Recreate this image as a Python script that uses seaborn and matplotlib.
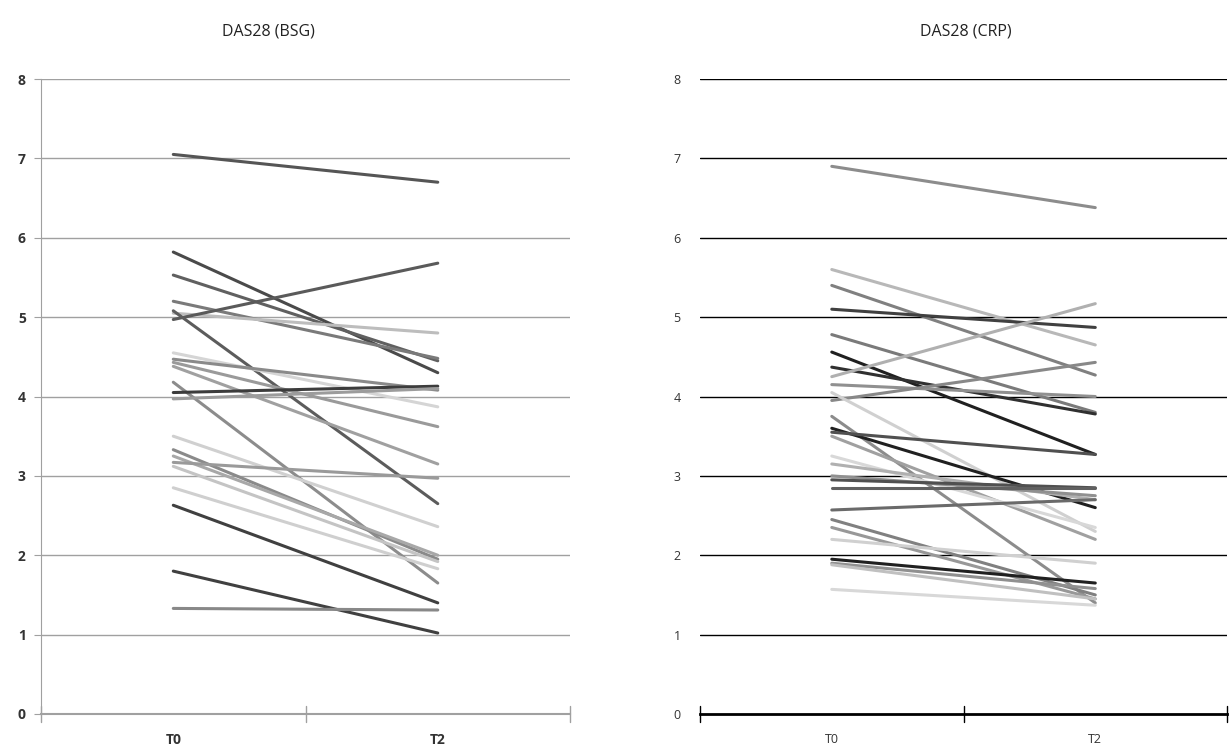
import pandas as pd
import matplotlib.pyplot as plt
import seaborn as sns

times = ["T0", "T2"]

# DAS28 (BSG)
bsg_t0 = [7.05, 5.82, 5.53, 5.20, 5.05, 4.97, 5.08, 4.55, 4.47, 4.43, 4.38, 4.18,
          4.05, 3.97, 3.50, 3.33, 3.25, 3.17, 3.12, 2.85, 2.63, 1.80, 1.33]
bsg_t2 = [6.70, 4.30, 4.45, 4.48, 4.80, 5.68, 2.65, 3.87, 4.08, 3.62, 3.15, 1.65,
          4.13, 4.10, 2.36, 1.95, 2.00, 2.97, 1.92, 1.83, 1.40, 1.02, 1.31]
bsg_colors = ["#555555", "#4a4a4a", "#606060", "#7a7a7a", "#bdbdbd", "#5a5a5a",
              "#5c5c5c", "#d5d5d5", "#8a8a8a", "#9a9a9a", "#a0a0a0", "#8c8c8c",
              "#3c3c3c", "#9c9c9c", "#d0d0d0", "#8a8a8a", "#a8a8a8", "#9a9a9a",
              "#c4c4c4", "#cfcfcf", "#404040", "#404040", "#888888"]

# DAS28 (CRP)
crp_t0 = [6.90, 5.60, 5.40, 5.10, 4.78, 4.56, 4.37, 4.25, 4.15, 3.95, 4.05, 3.75,
          3.60, 3.55, 3.50, 3.25, 3.15, 3.00, 2.95, 2.85, 2.57, 2.45, 2.35, 2.20,
          1.95, 1.90, 1.88, 1.57]
crp_t2 = [6.38, 4.65, 4.27, 4.87, 3.80, 3.27, 3.78, 5.17, 4.00, 4.43, 2.30, 1.40,
          2.60, 3.27, 2.20, 2.35, 2.70, 2.75, 2.85, 2.85, 2.70, 1.50, 1.45, 1.90,
          1.65, 1.58, 1.45, 1.37]
crp_colors = ["#8c8c8c", "#b8b8b8", "#808080", "#404040", "#7a7a7a", "#202020",
              "#303030", "#b0b0b0", "#909090", "#888888", "#d0d0d0", "#8c8c8c",
              "#202020", "#505050", "#a0a0a0", "#d8d8d8", "#b0b0b0", "#909090",
              "#505050", "#606060", "#6a6a6a", "#808080", "#989898", "#d0d0d0",
              "#202020", "#909090", "#c0c0c0", "#d8d8d8"]


def long_df(t0, t2):
    rows = []
    for i, (a, b) in enumerate(zip(t0, t2)):
        rows.append((i, times[0], a))
        rows.append((i, times[1], b))
    return pd.DataFrame(rows, columns=["id", "time", "score"])


sns.set_style("white")
plt.rcParams["font.family"] = ["Open Sans", "DejaVu Sans"]

fig = plt.figure(figsize=(12.29, 7.47), dpi=100)
ax1 = fig.add_axes([0.0334, 0.0442, 0.4304, 0.850])
ax2 = fig.add_axes([0.5696, 0.0442, 0.4288, 0.850])

panels = [
    (ax1, bsg_t0, bsg_t2, bsg_colors, "DAS28 (BSG)", "#a0a0a0", 0.43),
    (ax2, crp_t0, crp_t2, crp_colors, "DAS28 (CRP)", "#000000", 0.505),
]

for ax, t0, t2, cols, title, gcol, tx in panels:
    df = long_df(t0, t2)
    sns.lineplot(data=df, x="time", y="score", hue="id", units="id",
                 estimator=None, palette=cols, linewidth=2.2, legend=False, ax=ax)
    ax.set_xlim(-0.5, 1.5)
    ax.set_ylim(0, 8)
    ax.set_yticks(range(0, 9))
    ax.set_xticks([0, 1])
    ax.set_xticklabels(times)
    ax.set_xlabel("")
    ax.set_ylabel("")
    ax.grid(False)
    for v in range(1, 9):
        ax.axhline(v, color=gcol, linewidth=1.0, zorder=0)
    for s in ["top", "right"]:
        ax.spines[s].set_visible(False)
    ax.set_title(title, fontsize=11.5, pad=31, x=tx, color="#222222")
    # category separator ticks on the x axis
    for xv in [-0.5, 0.5, 1.5]:
        ax.plot([xv, xv], [-0.1, 0.1], color=gcol, linewidth=1.0,
                clip_on=False, zorder=5)

# left panel: gray axes, tick marks on the y axis
ax1.spines["left"].set_color("#a0a0a0")
ax1.spines["bottom"].set_color("#a0a0a0")
ax1.spines["bottom"].set_linewidth(1.5)
ax1.tick_params(axis="y", length=5, color="#a0a0a0", left=True, pad=6,
                labelsize=10)
ax1.tick_params(axis="x", length=0, pad=14, labelsize=10)
for lab in ax1.get_xticklabels() + ax1.get_yticklabels():
    lab.set_fontweight("bold")
    lab.set_color("#333333")

# right panel: no y axis line, black grid and x axis
ax2.spines["left"].set_visible(False)
ax2.spines["bottom"].set_color("#000000")
ax2.spines["bottom"].set_linewidth(2.0)
ax2.tick_params(axis="y", length=0, pad=14, labelsize=9)
ax2.tick_params(axis="x", length=0, pad=14, labelsize=9)
for lab in ax2.get_xticklabels() + ax2.get_yticklabels():
    lab.set_color("#333333")

fig.savefig("out.png", dpi=100, facecolor="white")
